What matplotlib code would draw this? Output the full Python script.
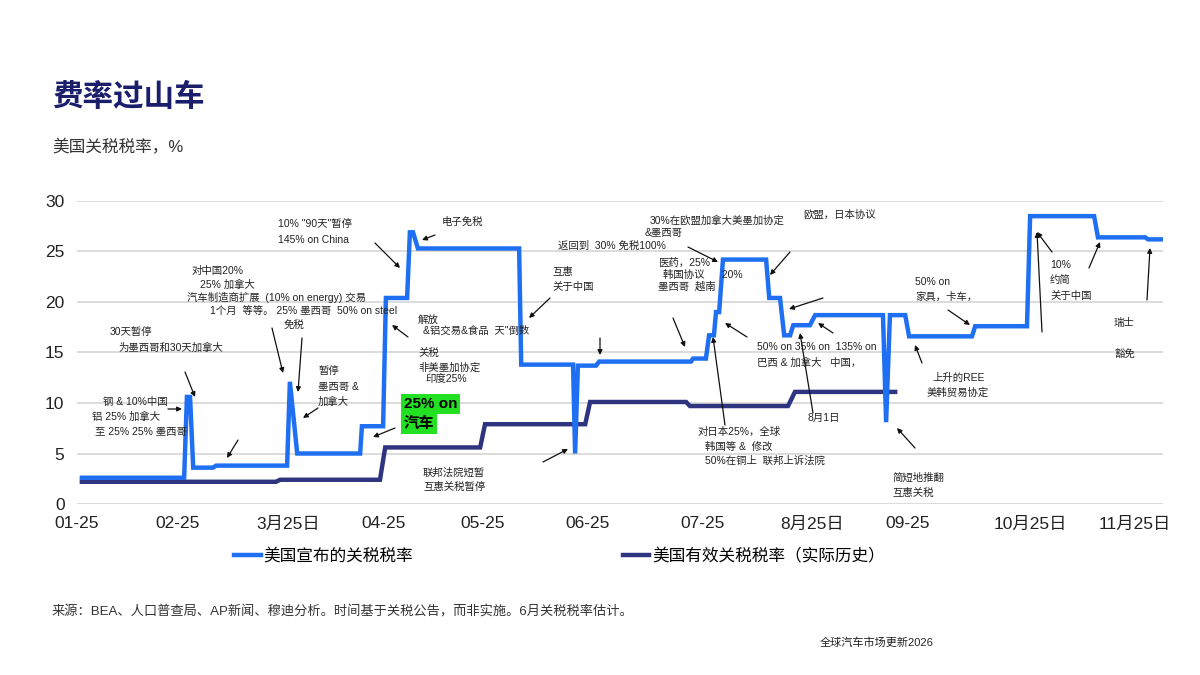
import matplotlib
matplotlib.use("Agg")
import matplotlib.pyplot as plt

plt.rcParams['font.family'] = ['Liberation Sans', 'Noto Sans CJK SC', 'DejaVu Sans']

# x = day position along the chart (0 = "01-25" label), y = tariff rate in %
announced_day = [1.4, 30.8, 31.6, 32.5, 33.4, 39.1, 40.0, 60.4, 61.2, 63.3, 81.4, 81.9,
                 88.0, 88.8, 94.9, 95.7, 96.6, 98.0, 127.1, 127.7, 142.6, 143.2, 144.0,
                 149.2, 150.1, 176.5, 177.1, 180.8, 181.7, 183.1, 183.7, 184.6, 185.7,
                 198.1, 199.0, 202.1, 203.3, 205.0, 205.9, 210.7, 212.2, 231.7, 232.6,
                 233.7, 238.1, 239.2, 257.3, 258.2, 273.1, 274.0, 292.4, 293.5, 307.1,
                 307.9, 312.2]
announced_rate = [2.6, 2.6, 10.6, 10.6, 3.6, 3.6, 3.8, 3.8, 12.1, 5.0, 5.0, 7.7,
                  7.7, 20.4, 20.4, 26.9, 26.9, 25.3, 25.3, 13.8, 13.8, 5.0, 13.7,
                  13.7, 14.1, 14.1, 14.4, 14.4, 16.7, 16.7, 19.0, 19.0, 24.2,
                  24.2, 20.4, 20.4, 16.7, 16.7, 17.7, 17.7, 18.7, 18.7, 8.1,
                  18.7, 18.7, 16.6, 16.6, 17.6, 17.6, 28.5, 28.5, 26.4, 26.4,
                  26.2, 26.2]

effective_day = [1.4, 57.2, 58.4, 87.1, 88.6, 115.9, 117.3, 146.1, 147.5, 175.1,
                 176.2, 204.4, 206.4, 235.2]
effective_rate = [2.2, 2.2, 2.4, 2.4, 5.6, 5.6, 7.9, 7.9, 10.1, 10.1,
                  9.7, 9.7, 11.1, 11.1]

tick_days = [0, 29.0, 60.7, 88.0, 116.7, 146.9, 179.7, 211.3, 238.9, 274.0, 304.2]
tick_labels = ['01-25', '02-25', '3月25日', '04-25', '05-25', '06-25', '07-25',
               '8月25日', '09-25', '10月25日', '11月25日']

series_names = ['美国宣布的关税税率', '美国有效关税税率（实际历史）']

# annotation texts: (left px, centre px, text) in the 1200x675 picture
notes = [
    (278, 225, '10% "90天"暂停'), (278, 240, '145% on China'),
    (192, 271, '对中国20%'), (200, 285, '25% 加拿大'),
    (187, 297, '汽车制造商扩展  (10% on energy) 交易'),
    (210, 311, '1个月  等等。 25% 墨西哥  50% on steel'), (284, 325, '免税'),
    (110, 333, '30天暂停'), (118, 348, '为墨西哥和30天加拿大'),
    (103, 402, '钢 & 10%中国'), (92, 417, '铝 25% 加拿大'), (95, 432, '至 25% 25% 墨西哥'),
    (318, 372, '暂停'), (318, 387, '墨西哥 &'), (318, 402, '加拿大'),
    (442, 222, '电子免税'), (558, 246, '返回到  30% 免税100%'),
    (552, 272, '互惠'), (552, 287, '关于中国'),
    (418, 320, '解放'), (423, 331, '&铝交易&食品  天"倒数'),
    (418, 353, '关税'), (418, 368, '非美墨加协定'), (425, 379, '印度25%'),
    (423, 473, '联邦法院短暂'), (423, 487, '互惠关税暂停'),
    (650, 221, '30%在欧盟加拿大美墨加协定'), (645, 233, '&墨西哥'),
    (803, 215, '欧盟，日本协议'),
    (658, 263, '医药，25%'), (663, 275, '韩国协议      20%'), (658, 287, '墨西哥  越南'),
    (757, 347, '50% on 35% on  135% on'), (757, 363, '巴西 & 加拿大   中国，'),
    (808, 418, '8月1日'),
    (698, 432, '对日本25%，全球'), (705, 447, '韩国等 &  修改'), (705, 461, '50%在铜上  联邦上诉法院'),
    (915, 282, '50% on'), (915, 297, '家具，卡车，'),
    (932, 378, '上升的REE'), (927, 393, '美韩贸易协定'),
    (892, 478, '简短地推翻'), (892, 493, '互惠关税'),
    (1050, 265, '10%'), (1050, 280, '约简'), (1050, 296, '关于中国'),
    (1114, 323, '瑞士'), (1114, 354, '豁免'),
]

# arrows: (tail x, tail y, head x, head y) in picture px
arrows = [
    (375, 243, 400, 268), (185, 372, 195, 397), (168, 409, 182, 409), (238, 440, 227, 458),
    (272, 328, 283, 373), (302, 338, 298, 392), (318, 408, 303, 418), (395, 428, 373, 437),
    (408, 337, 392, 325), (435, 235, 422, 240), (550, 298, 529, 318), (543, 462, 568, 449),
    (600, 338, 600, 355), (688, 247, 718, 262), (790, 252, 770, 275), (673, 318, 685, 347),
    (747, 337, 725, 323), (823, 298, 789, 309), (833, 333, 818, 323), (813, 413, 800, 333),
    (725, 425, 713, 337), (948, 310, 970, 325), (922, 363, 915, 345), (915, 448, 897, 428),
    (1042, 332, 1037, 232), (1052, 252, 1037, 232), (1089, 268, 1100, 242), (1147, 300, 1150, 248),
]

W, H = 1200, 675


def fx(px):
    return px / W


def fy(py):
    return 1 - py / H


fig = plt.figure(figsize=(12, 6.75), dpi=100)
ax = fig.add_axes([fx(77), fy(504), fx(1163) - fx(77), fy(201) - fy(504)])

ax.plot(announced_day, announced_rate, color='#1f6ff2', lw=3.2, label=series_names[0],
        solid_joinstyle='miter', zorder=3)
ax.plot(effective_day, effective_rate, color='#2f3480', lw=3.2, label=series_names[1],
        solid_joinstyle='miter', zorder=2)

ax.set_xlim(0, 312.2)
ax.set_ylim(0, 30)
ax.set_yticks([0, 5, 10, 15, 20, 25, 30])
ax.set_xticks(tick_days)
ax.set_xticklabels(tick_labels)
ax.grid(axis='y', color='#d9d9d9', lw=1.3)
ax.set_axisbelow(True)
for s in ax.spines.values():
    s.set_visible(False)
ax.tick_params(axis='both', length=0, labelsize=12.5, colors='#222222')
ax.tick_params(axis='y', pad=9)
ax.tick_params(axis='x', pad=9)

ax.legend(ncol=2, loc='upper left', bbox_to_anchor=(fx(234), fy(548)),
          bbox_transform=fig.transFigure, frameon=False, fontsize=12,
          handlelength=1.6, handletextpad=0.15, columnspacing=12.6, borderpad=0,
          borderaxespad=0)

fig.text(fx(52), fy(98), '费率过山车', fontsize=22, fontweight='bold', color='#1b1f6b',
         ha='left', va='center')
fig.text(fx(52), fy(147), '美国关税税率，%', fontsize=12, color='#333333',
         ha='left', va='center')

for x, y, s in notes:
    fig.text(fx(x), fy(y), s, fontsize=7.5, color='#222222', ha='left', va='center')

# green highlight box
fig.text(fx(404), fy(404), '25% on', fontsize=11, fontweight='bold', color='black',
         ha='left', va='center', bbox=dict(facecolor='#22e022', edgecolor='none', pad=2))
fig.text(fx(404), fy(424), '汽车', fontsize=11, fontweight='bold', color='black',
         ha='left', va='center', bbox=dict(facecolor='#22e022', edgecolor='none', pad=2))

for x0, y0, x1, y1 in arrows:
    ax.annotate('', xy=(fx(x1), fy(y1)), xytext=(fx(x0), fy(y0)),
                xycoords='figure fraction', textcoords='figure fraction',
                annotation_clip=False,
                arrowprops=dict(arrowstyle='-|>', color='#111111', lw=0.9,
                                mutation_scale=7, shrinkA=0, shrinkB=0))

fig.text(fx(52), fy(612), '来源：BEA、人口普查局、AP新闻、穆迪分析。时间基于关税公告，而非实施。6月关税税率估计。',
         fontsize=9.5, color='#333333', ha='left', va='center')
fig.text(fx(820), fy(643), '全球汽车市场更新2026', fontsize=8, color='#222222',
         ha='left', va='center')

fig.savefig('out.png', dpi=100)
